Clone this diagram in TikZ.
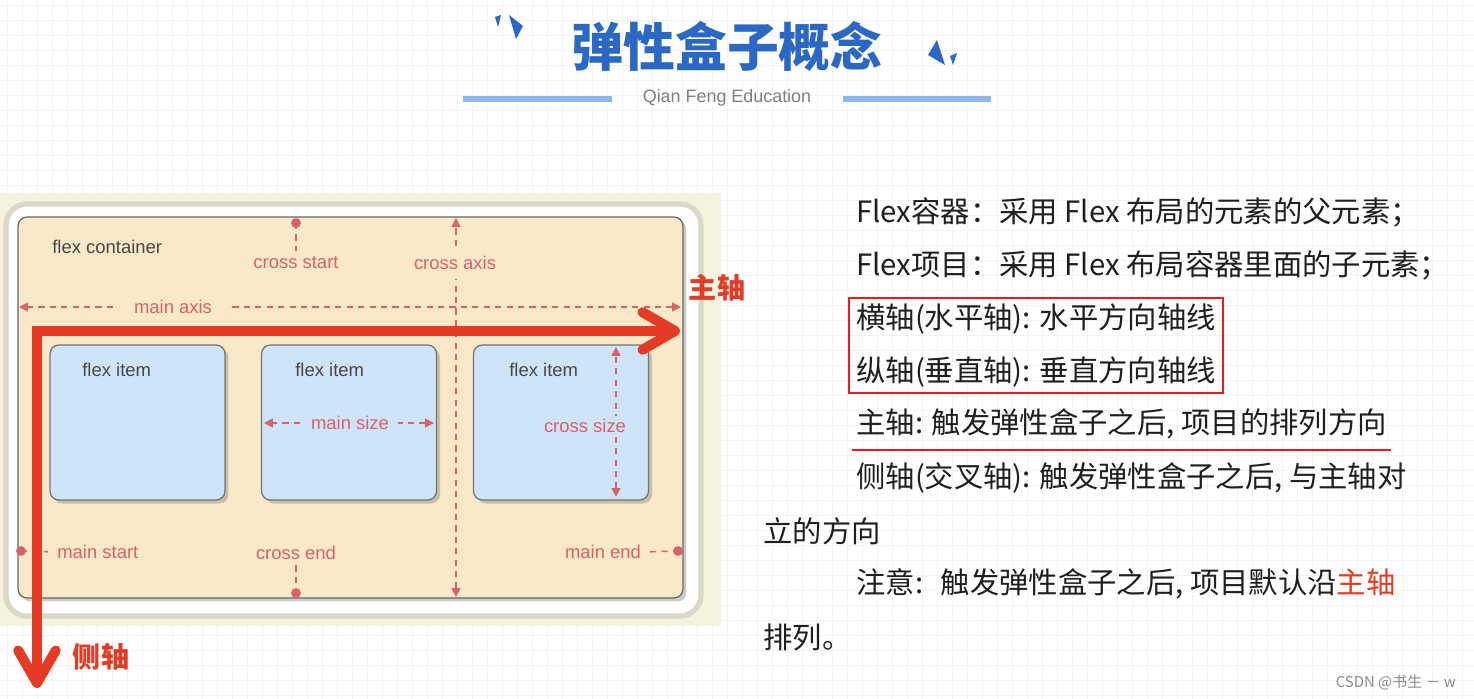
\documentclass[tikz,border=0pt]{standalone}
\usepackage{fontspec}
\setmainfont{Liberation Sans}
\newfontfamily\cjk{Noto Sans CJK SC}
\usetikzlibrary{arrows.meta,shadows,fit,calc}

\definecolor{ejerojo}{RGB}{229,58,36}
\definecolor{guia}{RGB}{216,98,108}
\definecolor{titulo}{RGB}{43,104,197}
\definecolor{lineaazul}{RGB}{141,182,234}
\definecolor{crema}{RGB}{249,233,201}
\definecolor{fondopanel}{RGB}{245,243,223}
\definecolor{marco}{RGB}{218,216,198}
\definecolor{itemazul}{RGB}{207,228,249}
\definecolor{marcorojo}{RGB}{226,30,36}

\begin{document}
\begin{tikzpicture}[x=0.02cm, y=-0.02cm,
    gridline/.style={black!5, line width=0.5pt},
    container/.style={draw=black!60, fill=crema, rounded corners=5pt, line width=0.7pt,
        drop shadow={shadow xshift=2pt, shadow yshift=-2pt, opacity=0.4},
        minimum width=13.3cm, minimum height=7.62cm, inner sep=0pt},
    flexitem/.style={draw=black!55, fill=itemazul, rounded corners=5pt, line width=0.7pt,
        drop shadow={shadow xshift=2pt, shadow yshift=-2pt, opacity=0.4},
        minimum width=3.5cm, minimum height=3.1cm, inner sep=0pt},
    lbl/.style={text=black!72, font=\fontsize{10.5}{12}\selectfont, inner sep=0pt},
    guidelbl/.style={text=guia, font=\fontsize{10.5}{12}\selectfont, inner sep=0pt},
    guide/.style={guia, dash pattern=on 3.5pt off 3pt, line width=0.9pt},
    guidetips/.style={guide, {Triangle[length=5pt,width=5pt]}-{Triangle[length=5pt,width=5pt]}},
    bigarrow/.style={ejerojo, line width=0.2cm, line join=miter,
        {Straight Barb[length=6.5mm,width=7.5mm,round]}-{Straight Barb[length=6.5mm,width=7.5mm,round]}},
    ejelbl/.style={text=ejerojo, font=\cjk\bfseries\fontsize{16}{18}\selectfont, inner sep=0pt},
    txt/.style={anchor=west, inner sep=0pt, text=black!88, font=\cjk\fontsize{16.7}{18}\selectfont}
]
\useasboundingbox (0,0) rectangle (1474,699);

% Cuadricula
\fill[white] (0,0) rectangle (1474,699);
\foreach \gx in {7,22,...,1474} \draw[gridline] (\gx,0) -- (\gx,699);
\foreach \gy in {5,20,...,699} \draw[gridline] (0,\gy) -- (1474,\gy);

% Titulo
\node[text=titulo, font=\cjk\bfseries\fontsize{29.5}{32}\selectfont] (title) at (727,46) {弹性盒子概念};
\fill[titulo] (495,17) -- (501,15) -- (498,27) -- cycle;
\fill[titulo] (509,15) -- (523,26) -- (516,39) -- cycle;
\fill[titulo] (937,40) -- (928,55) -- (945,65) -- cycle;
\fill[titulo] (950,56) -- (957,53) -- (953,65) -- cycle;
\node[text=black!50, font=\fontsize{10.2}{12}\selectfont] (sub) at (727,98) {Qian Feng Education};
\draw[lineaazul, line width=3.4pt] (463,99) -- (612,99);
\draw[lineaazul, line width=3.4pt] (843,99) -- (991,99);

% Panel
\fill[fondopanel] (0,193) rectangle (721,626);
\draw[marco, fill=white, line width=3pt, rounded corners=12pt] (6,204) rectangle (701,616);

% Contenedor y elementos
\node[container] (box) at (350.5,407.5) {};
\node[flexitem] (item1) at (137.5,422.5) {};
\node[flexitem] (item2) at (349,422.5) {};
\node[flexitem] (item3) at (561,422.5) {};

\node[lbl, anchor=west] (lbox) at (52,247) {flex container};
\node[lbl, anchor=west] (litem1) at (82,370) {flex item};
\node[lbl, anchor=west] (litem2) at (295,370) {flex item};
\node[lbl, anchor=west] (litem3) at (509,370) {flex item};

% Ejes punteados
\coordinate (maL) at (19,307);
\coordinate (maR) at (681,307);
\draw[guidetips] (maR) -- (maL);
\node[guidelbl, fill=crema, inner xsep=10pt] (lma) at (173,307) {main axis};

\coordinate (caT) at (456,218);
\coordinate (caB) at (456,597);
\draw[guidetips] (caB) -- (caT);
\node[guidelbl, fill=crema, inner ysep=5pt] (lca) at (455,263) {cross axis};

% Tamanos
\coordinate (msL) at (264,423);
\coordinate (msR) at (434,423);
\draw[guidetips] (msR) -- (msL);
\node[guidelbl, fill=itemazul, inner xsep=5pt] (lmsz) at (350,423) {main size};

\coordinate (csT) at (616,347);
\coordinate (csB) at (616,497);
\draw[guidetips] (csB) -- (csT);
\node[guidelbl, fill=itemazul, inner ysep=2pt] (lcsz) at (585,426) {cross size};

% Inicio y fin
\coordinate (cs) at (296,223);
\node[guidelbl] (lcs) at (296,263) {cross start};
\draw[guide, shorten >=3pt] (cs) -- (lcs.north);
\fill[guia] (cs) circle[radius=2.8pt];

\coordinate (ce) at (296,593);
\node[guidelbl] (lce) at (296,553) {cross end};
\draw[guide, shorten <=3pt] (lce.south) -- (ce);
\fill[guia] (ce) circle[radius=2.8pt];

\coordinate (ms) at (21,551);
\node[guidelbl, anchor=west] (lms) at (57,552) {main start};
\draw[guide, shorten >=5pt] (ms) -- (lms.west);
\fill[guia] (ms) circle[radius=2.8pt];

\coordinate (me) at (678,551);
\node[guidelbl] (lme) at (603,552) {main end};
\draw[guide, shorten <=5pt] (lme.east) -- (me);
\fill[guia] (me) circle[radius=2.8pt];

% Flechas rojas
\coordinate (maintip) at (680,331);
\coordinate (sidetip) at (37,688);
\draw[bigarrow] (sidetip) |- (maintip);
\node[ejelbl] (lmain) at (717,288) {主轴};
\node[ejelbl] (lside) at (101,657) {侧轴};

% Texto
\node[txt] (r1) at (856,212) {Flex容器：采用 Flex 布局的元素的父元素；};
\node[txt] (r2) at (856,265) {Flex项目：采用 Flex 布局容器里面的子元素；};
\node[txt] (r3) at (856,319) {横轴(水平轴): 水平方向轴线};
\node[txt] (r4) at (856,372) {纵轴(垂直轴): 垂直方向轴线};
\node[txt] (r5) at (856,424) {主轴: 触发弹性盒子之后, 项目的排列方向};
\node[txt] (r6) at (856,478) {侧轴(交叉轴): 触发弹性盒子之后, 与主轴对};
\node[txt] (r7) at (763,531) {立的方向};
\node[txt] (r8) at (856,584) {注意:\hspace{0.6em}触发弹性盒子之后, 项目默认沿\textcolor{ejerojo}{主轴}};
\node[txt] (r9) at (763,637) {排列。};

\node[draw=marcorojo, line width=1.2pt, inner xsep=4pt, inner ysep=3pt, fit=(r3)(r4)] (rbox) {};
\draw[marcorojo, line width=1.2pt] ($(r5.west)+(-4,26)$) -- ($(r5.east)+(4,26)$);

\node[anchor=east, text=black!45, font=\cjk\fontsize{8.5}{10}\selectfont] (wm) at (1462,683) {CSDN @书生 － w};

\end{tikzpicture}
\end{document}
